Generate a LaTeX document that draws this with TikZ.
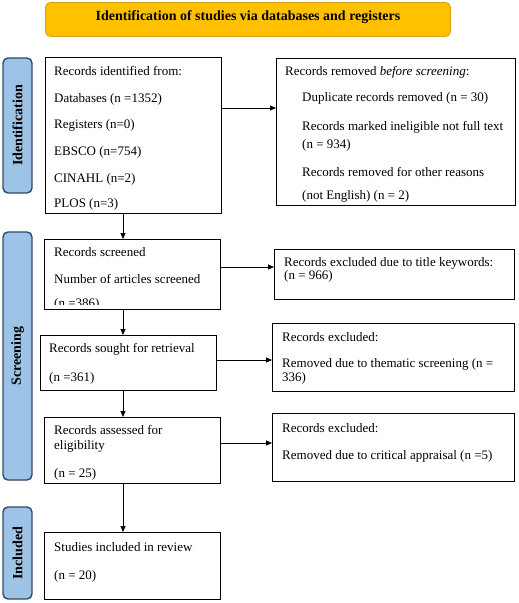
\documentclass[tikz,border=0pt]{standalone}
\usepackage{fontspec}
\setmainfont{Liberation Serif}
\usetikzlibrary{arrows.meta}
\definecolor{titlefill}{HTML}{FFC000}
\definecolor{titleedge}{HTML}{D4A017}
\definecolor{sidefill}{HTML}{9DC3E6}
\definecolor{sideedge}{HTML}{2E4A66}
\begin{document}
\begin{tikzpicture}[x=1pt,y=-1pt,
  box/.style={draw=black, line width=0.9pt, inner sep=0pt, anchor=north west},
  txt/.style={inner sep=0pt, anchor=base west, font=\fontsize{13}{15}\selectfont},
  side/.style={draw=sideedge, fill=sidefill, line width=1.4pt, rounded corners=5pt, rotate=90,
     minimum height=29pt, inner sep=0pt, font=\fontsize{14}{16}\selectfont\bfseries},
  arr/.style={line width=0.9pt, -{Triangle[length=6pt,width=5pt]}},
  con/.style={line width=0.9pt}]
\useasboundingbox (0,0) rectangle (519,603);

% title
\node[draw=titleedge, fill=titlefill, line width=0.9pt, rounded corners=5pt, anchor=north west,
  minimum width=405pt, minimum height=34pt, inner sep=0pt] (title) at (45,2) {};
\node[inner sep=0pt, font=\fontsize{14}{16}\selectfont\bfseries] (titletxt) at (248,17) {Identification of studies via databases and registers};

% side labels
\node[side, minimum width=135pt] (sidA) at (17.5,125.5) {Identification};
\node[side, minimum width=248pt] (sidB) at (17.5,356) {Screening};
\node[side, minimum width=92pt] (sidC) at (17.5,553) {Included};

% boxes
\node[box, minimum width=176pt, minimum height=156pt] (b1) at (45,57) {};
\node[box, minimum width=239pt, minimum height=147pt] (r1) at (276,58) {};
\node[box, minimum width=176pt, minimum height=70pt] (s1) at (44,239) {};
\node[box, minimum width=240pt, minimum height=50pt] (e1) at (274,249) {};
\node[box, minimum width=176pt, minimum height=55pt] (s2) at (40,335) {};
\node[box, minimum width=242pt, minimum height=68pt] (e2) at (272,323) {};
\node[box, minimum width=176pt, minimum height=66pt] (s3) at (44,417) {};
\node[box, minimum width=242pt, minimum height=68pt] (e3) at (272,413) {};
\node[box, minimum width=176pt, minimum height=67pt] (s4) at (44,532) {};

% texts
\node[txt] (t1a) at (54,75) {Records identified from:};
\node[txt] (t1b) at (54,102) {Databases (n =1352)};
\node[txt] (t1c) at (54,128) {Registers (n=0)};
\node[txt] (t1d) at (54,155) {EBSCO (n=754)};
\node[txt] (t1e) at (54,182) {CINAHL (n=2)};
\node[txt] (t1f) at (54,207) {PLOS (n=3)};

\node[txt] (r1a) at (285,75) {Records removed \textit{before screening}:};
\node[txt] (r1b) at (302,101) {Duplicate records removed (n = 30)};
\node[txt] (r1c) at (302,130) {Records marked ineligible not full text};
\node[txt] (r1d) at (302,148) {(n = 934)};
\node[txt] (r1e) at (302,176) {Records removed for other reasons};
\node[txt] (r1f) at (302,199) {(not English) (n = 2)};

\node[txt] (s1a) at (54,256) {Records screened};
\node[txt] (s1b) at (54,283) {Number of articles screened};
\begin{scope}
  \clip (44,239) rectangle (220,304);
  \node[txt] (s1c) at (54,307.5) {(n =386)};
\end{scope}

\node[txt] (e1a) at (284,266) {Records excluded due to title keywords:};
\node[txt] (e1b) at (284,279) {(n = 966)};

\node[txt] (s2a) at (49,352) {Records sought for retrieval};
\node[txt] (s2b) at (49,381) {(n =361)};

\node[txt] (e2a) at (282,341) {Records excluded:};
\node[txt] (e2b) at (282,367) {Removed due to thematic screening (n =};
\node[txt] (e2c) at (282,381) {336)};

\node[txt] (s3a) at (54,434) {Records assessed for};
\node[txt] (s3b) at (54,449) {eligibility};
\node[txt] (s3c) at (54,477) {(n = 25)};

\node[txt] (e3a) at (282,432) {Records excluded:};
\node[txt] (e3b) at (282,459) {Removed due to critical appraisal (n =5)};

\node[txt] (s4a) at (54,551) {Studies included in review};
\node[txt] (s4b) at (54,579) {(n = 20)};

% connectors
\coordinate (vx) at (123,0);
\coordinate (y1) at (0,108);
\coordinate (y2) at (0,267);
\coordinate (y3) at (0,360);
\coordinate (y4) at (0,443);

\draw[arr] (b1.east |- y1) -- (r1.west |- y1);
\draw[arr] (s1.east |- y2) -- (e1.west |- y2);
\draw[arr] (s2.east |- y3) -- (e2.west |- y3);
\draw[arr] (s3.east |- y4) -- (e3.west |- y4);

\draw[arr] (b1.south -| vx) -- (s1.north -| vx);
\draw[arr] (s1.south -| vx) -- (s2.north -| vx);
\draw[arr] (s2.south -| vx) -- (s3.north -| vx);
\draw[arr] (s3.south -| vx) -- (s4.north -| vx);
\end{tikzpicture}
\end{document}
